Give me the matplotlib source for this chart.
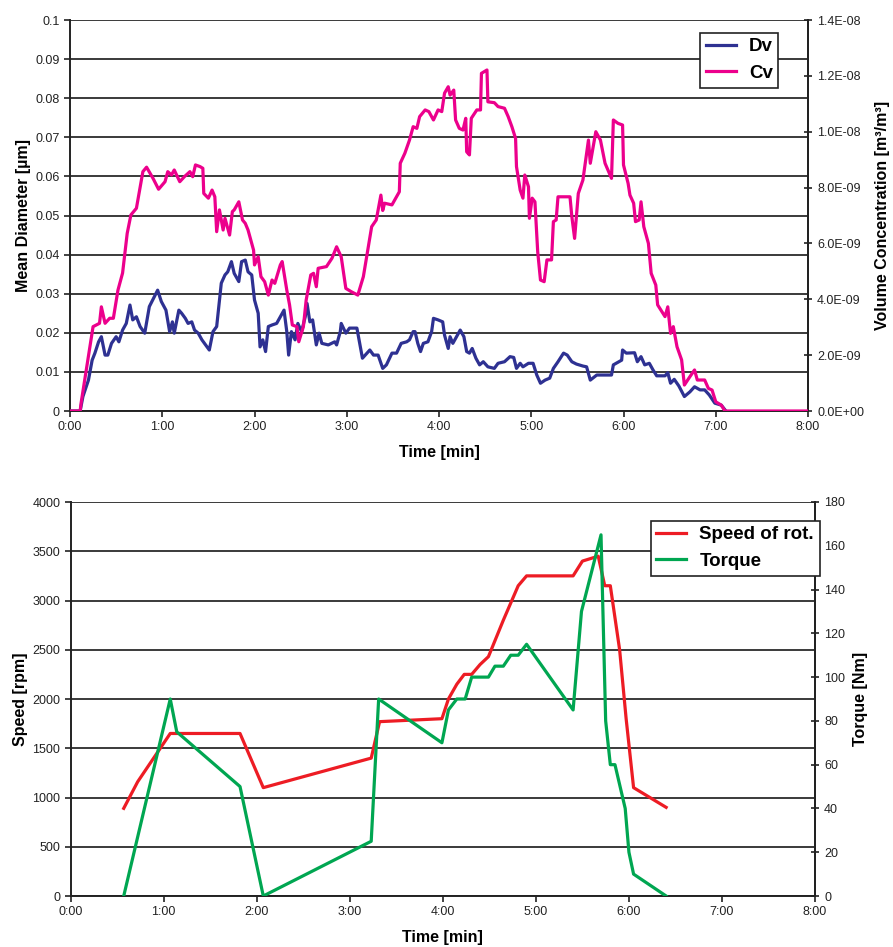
import matplotlib
matplotlib.use("Agg")
import matplotlib.pyplot as plt
from matplotlib.ticker import FuncFormatter, MultipleLocator
import numpy as np

plt.rcParams['font.family'] = ['Liberation Sans', 'DejaVu Sans']

# ---------------- data: top chart ----------------
# time in minutes
dv_time = [0.00, 0.11, 0.14, 0.20, 0.24, 0.27, 0.31, 0.34, 0.38, 0.41, 0.45, 0.50, 0.53, 0.57, 0.61,
           0.65, 0.68, 0.72, 0.76, 0.81, 0.86, 0.95, 0.99, 1.04, 1.08, 1.11, 1.13, 1.18, 1.21, 1.25,
           1.28, 1.32, 1.35, 1.39, 1.43, 1.47, 1.51, 1.55, 1.59, 1.64, 1.68, 1.71, 1.75, 1.78, 1.83,
           1.86, 1.90, 1.93, 1.97, 2.00, 2.04, 2.06, 2.09, 2.12, 2.15, 2.19, 2.24, 2.28, 2.32, 2.35,
           2.37, 2.40, 2.44, 2.47, 2.51, 2.55, 2.57, 2.60, 2.63, 2.67, 2.70, 2.73, 2.80, 2.87, 2.89,
           2.93, 2.94, 2.99, 3.03, 3.11, 3.17, 3.25, 3.29, 3.34, 3.39, 3.43, 3.49, 3.54, 3.59, 3.65,
           3.68, 3.72, 3.74, 3.77, 3.80, 3.83, 3.88, 3.92, 3.94, 3.99, 4.04, 4.06, 4.10, 4.12, 4.15,
           4.19, 4.23, 4.27, 4.30, 4.33, 4.36, 4.40, 4.44, 4.48, 4.53, 4.60, 4.64, 4.71, 4.77, 4.81,
           4.84, 4.88, 4.91, 4.97, 5.02, 5.06, 5.10, 5.15, 5.20, 5.24, 5.29, 5.35, 5.39, 5.44, 5.49,
           5.56, 5.60, 5.64, 5.71, 5.78, 5.87, 5.89, 5.95, 5.98, 5.99, 6.03, 6.12, 6.15, 6.19, 6.23,
           6.28, 6.32, 6.36, 6.45, 6.48, 6.51, 6.55, 6.60, 6.66, 6.72, 6.77, 6.83, 6.88, 6.93, 6.99,
           7.06, 7.10]
# mean diameter Dv [um]
dv_values = [0.0000, 0.0000, 0.0037, 0.0079, 0.0130, 0.0148, 0.0177, 0.0190, 0.0143, 0.0143, 0.0173, 0.0190, 0.0177, 0.0207, 0.0224,
             0.0271, 0.0233, 0.0241, 0.0216, 0.0199, 0.0267, 0.0309, 0.0280, 0.0258, 0.0203, 0.0228, 0.0199, 0.0258, 0.0250, 0.0237,
             0.0224, 0.0228, 0.0207, 0.0199, 0.0182, 0.0169, 0.0156, 0.0203, 0.0216, 0.0327, 0.0348, 0.0356, 0.0382, 0.0352, 0.0331,
             0.0382, 0.0386, 0.0356, 0.0348, 0.0284, 0.0250, 0.0164, 0.0182, 0.0152, 0.0216, 0.0220, 0.0224, 0.0241, 0.0258, 0.0203,
             0.0143, 0.0203, 0.0182, 0.0224, 0.0203, 0.0241, 0.0275, 0.0228, 0.0233, 0.0169, 0.0199, 0.0173, 0.0169, 0.0177, 0.0169,
             0.0203, 0.0224, 0.0199, 0.0212, 0.0212, 0.0135, 0.0156, 0.0143, 0.0143, 0.0109, 0.0118, 0.0148, 0.0148, 0.0173, 0.0177,
             0.0182, 0.0203, 0.0203, 0.0173, 0.0152, 0.0173, 0.0177, 0.0203, 0.0237, 0.0233, 0.0228, 0.0194, 0.0160, 0.0190, 0.0173,
             0.0190, 0.0207, 0.0190, 0.0152, 0.0148, 0.0160, 0.0135, 0.0118, 0.0126, 0.0113, 0.0109, 0.0122, 0.0126, 0.0139, 0.0137,
             0.0109, 0.0122, 0.0113, 0.0122, 0.0122, 0.0092, 0.0071, 0.0079, 0.0084, 0.0109, 0.0126, 0.0148, 0.0143, 0.0126, 0.0120,
             0.0115, 0.0113, 0.0079, 0.0092, 0.0092, 0.0092, 0.0118, 0.0126, 0.0130, 0.0156, 0.0148, 0.0149, 0.0126, 0.0139, 0.0118,
             0.0122, 0.0105, 0.0090, 0.0090, 0.0098, 0.0071, 0.0081, 0.0064, 0.0037, 0.0049, 0.0062, 0.0054, 0.0054, 0.0041, 0.0020,
             0.0015, 0.0003]

cv_time = [0.00, 0.11, 0.12, 0.25, 0.32, 0.34, 0.38, 0.43, 0.47, 0.52, 0.57, 0.62, 0.66, 0.72, 0.79,
           0.83, 0.90, 0.96, 1.03, 1.06, 1.10, 1.13, 1.19, 1.24, 1.30, 1.33, 1.36, 1.41, 1.44, 1.45,
           1.50, 1.54, 1.57, 1.59, 1.62, 1.66, 1.68, 1.73, 1.76, 1.78, 1.83, 1.87, 1.90, 1.93, 1.99,
           2.00, 2.04, 2.07, 2.11, 2.15, 2.19, 2.22, 2.28, 2.30, 2.35, 2.38, 2.41, 2.46, 2.48, 2.53,
           2.56, 2.61, 2.64, 2.67, 2.69, 2.78, 2.84, 2.89, 2.94, 2.99, 3.05, 3.12, 3.18, 3.27, 3.32,
           3.37, 3.39, 3.41, 3.49, 3.57, 3.58, 3.63, 3.68, 3.72, 3.76, 3.79, 3.85, 3.89, 3.94, 3.99,
           4.03, 4.06, 4.10, 4.12, 4.16, 4.18, 4.22, 4.26, 4.29, 4.30, 4.33, 4.35, 4.41, 4.45, 4.46,
           4.52, 4.53, 4.60, 4.64, 4.71, 4.75, 4.79, 4.83, 4.84, 4.88, 4.91, 4.93, 4.97, 4.98, 5.01,
           5.04, 5.07, 5.10, 5.14, 5.17, 5.22, 5.24, 5.27, 5.29, 5.42, 5.44, 5.47, 5.51, 5.56, 5.62,
           5.64, 5.70, 5.75, 5.80, 5.87, 5.89, 5.94, 5.99, 6.00, 6.05, 6.07, 6.11, 6.13, 6.17, 6.19,
           6.22, 6.27, 6.30, 6.35, 6.37, 6.45, 6.48, 6.51, 6.54, 6.58, 6.63, 6.66, 6.72, 6.77, 6.80,
           6.88, 6.92, 6.96, 7.00, 7.06, 7.10, 8.00]
# volume concentration Cv [1E-09 m3/m3]
cv_values_e9 = [0.00, 0.00, 0.28, 3.02, 3.14, 3.73, 3.14, 3.32, 3.32, 4.33, 4.94, 6.36, 7.02, 7.26, 8.57,
                8.73, 8.33, 7.94, 8.21, 8.57, 8.45, 8.63, 8.21, 8.39, 8.57, 8.39, 8.81, 8.75, 8.69, 7.79,
                7.62, 7.91, 7.67, 6.42, 7.20, 6.48, 6.90, 6.30, 7.14, 7.20, 7.49, 6.84, 6.72, 6.48, 5.76,
                5.23, 5.52, 4.81, 4.63, 4.15, 4.69, 4.57, 5.23, 5.35, 4.33, 3.80, 3.08, 3.02, 2.48, 3.02,
                3.97, 4.87, 4.93, 4.45, 5.11, 5.17, 5.47, 5.88, 5.52, 4.39, 4.27, 4.15, 4.81, 6.60, 6.84,
                7.73, 7.18, 7.44, 7.38, 7.85, 8.87, 9.23, 9.70, 10.18, 10.12, 10.54, 10.78, 10.72, 10.42, 10.78,
                10.72, 11.38, 11.61, 11.31, 11.49, 10.42, 10.12, 10.06, 10.48, 9.28, 9.17, 10.48, 10.78, 10.78, 12.09,
                12.21, 11.07, 11.04, 10.90, 10.84, 10.54, 10.18, 9.76, 8.75, 7.91, 7.62, 8.45, 8.03, 6.90, 7.62,
                7.49, 5.70, 4.69, 4.63, 5.41, 5.41, 6.78, 6.84, 7.67, 7.67, 6.96, 6.18, 7.79, 8.27, 9.70,
                8.87, 10.00, 9.70, 8.87, 8.33, 10.42, 10.30, 10.24, 8.81, 8.15, 7.73, 7.44, 6.78, 6.84, 7.49,
                6.60, 6.00, 4.93, 4.51, 3.80, 3.38, 3.73, 2.78, 3.02, 2.30, 1.83, 0.93, 1.23, 1.47, 1.11,
                1.11, 0.81, 0.75, 0.33, 0.21, 0.00, 0.00]
cv_values = [v * 1e-9 for v in cv_values_e9]

# ---------------- data: bottom chart ----------------
speed_time = [0.57, 0.72, 1.07, 1.82, 2.07, 3.23, 3.32, 3.99, 4.06, 4.15, 4.23, 4.31, 4.40, 4.49,
              4.65, 4.81, 4.90, 5.40, 5.50, 5.67, 5.74, 5.80, 5.90, 5.97, 6.05, 6.40]
speed_rpm = [890, 1160, 1650, 1650, 1100, 1400, 1770, 1800, 2000, 2150, 2250, 2250, 2350, 2430,
             2800, 3150, 3250, 3250, 3400, 3450, 3150, 3150, 2500, 1800, 1100, 900]

torque_time = [0.57, 1.07, 1.14, 1.82, 2.07, 3.23, 3.31, 3.99, 4.06, 4.15, 4.24, 4.31, 4.49, 4.56,
               4.65, 4.73, 4.81, 4.90, 5.40, 5.49, 5.70, 5.75, 5.80, 5.85, 5.96, 6.00, 6.05, 6.40]
torque_nm = [0, 90, 75, 50, 0, 25, 90, 70, 85, 90, 90, 100, 100, 105,
             105, 110, 110, 115, 85, 130, 165, 80, 60, 60, 40, 20, 10, 0]

x_ticks = [0, 1, 2, 3, 4, 5, 6, 7, 8]

# ---------------- styling ----------------
C_DV = '#2E3192'
C_CV = '#EC008C'
C_SPEED = '#ED1C24'
C_TORQUE = '#00A651'
GRID = '#2b2b2b'
LW = 2.3
TICK_FS = 9
LABEL_FS = 11.5
LEG_FS = 13.5

fig = plt.figure(figsize=(8.93, 9.47), dpi=100)

def time_fmt(v, pos):
    return f"{int(round(v))}:00"

def style_axes(ax, ax2):
    ax.set_xlim(0, 8)
    ax.set_xticks(x_ticks)
    ax.xaxis.set_major_formatter(FuncFormatter(time_fmt))
    ax.grid(axis='y', color=GRID, linewidth=1.3, zorder=0)
    ax.set_axisbelow(True)
    for sp in ('top',):
        ax.spines[sp].set_visible(False)
        ax2.spines[sp].set_visible(False)
    ax2.spines['left'].set_visible(False)
    ax2.spines['bottom'].set_visible(False)
    for a in (ax, ax2):
        for sp in ('left', 'right', 'bottom'):
            a.spines[sp].set_linewidth(1.4)
            a.spines[sp].set_color('#222222')
    ax.tick_params(axis='both', labelsize=TICK_FS, colors='#222222', length=4, width=1.2, direction='out')
    ax2.tick_params(axis='y', labelsize=TICK_FS, colors='#222222', length=6, width=1.2, direction='inout')

LEG_KW = dict(loc='upper left', borderaxespad=0, fancybox=False, edgecolor='#222222', framealpha=1,
              handlelength=1.6, handletextpad=0.7, borderpad=0.3, labelspacing=0.5,
              prop={'size': LEG_FS, 'weight': 'bold'})

# ---------- top chart ----------
ax1 = fig.add_axes([70 / 893, 1 - 411 / 947, 738 / 893, 391 / 947])
ax1b = ax1.twinx()
l_dv, = ax1.plot(dv_time, dv_values, color=C_DV, lw=LW, solid_joinstyle='round', label='Dv', zorder=3)
l_cv, = ax1b.plot(cv_time, cv_values, color=C_CV, lw=LW, solid_joinstyle='round', label='Cv', zorder=3)
ax1.set_ylim(0, 0.1)
ax1.yaxis.set_major_locator(MultipleLocator(0.01))
ax1.yaxis.set_major_formatter(FuncFormatter(lambda v, p: "0" if abs(v) < 1e-12 else f"{round(v, 2):g}"))
ax1b.set_ylim(0, 1.4e-8)
ax1b.yaxis.set_major_locator(MultipleLocator(2e-9))
ax1b.yaxis.set_major_formatter(FuncFormatter(lambda v, p: f"{v:.1E}"))
style_axes(ax1, ax1b)
ax1.set_xlabel('Time [min]', fontsize=LABEL_FS, fontweight='bold', labelpad=8)
ax1.set_ylabel('Mean Diameter [µm]', fontsize=LABEL_FS, fontweight='bold', labelpad=3)
ax1b.set_ylabel('Volume Concentration [m³/m³]', fontsize=LABEL_FS, fontweight='bold', rotation=90, labelpad=8)
leg1 = ax1b.legend(handles=[l_dv, l_cv], bbox_to_anchor=(0.8537, 0.9675), **LEG_KW)
leg1.get_frame().set_linewidth(1.2)

# ---------- bottom chart ----------
ax2 = fig.add_axes([70.7 / 893, 1 - 896 / 947, 744.3 / 893, 394 / 947])
ax2b = ax2.twinx()
l_sp, = ax2.plot(speed_time, speed_rpm, color=C_SPEED, lw=LW, solid_joinstyle='round', label='Speed of rot.', zorder=3)
l_tq, = ax2b.plot(torque_time, torque_nm, color=C_TORQUE, lw=LW, solid_joinstyle='round', label='Torque', zorder=3)
ax2.set_ylim(0, 4000)
ax2.yaxis.set_major_locator(MultipleLocator(500))
ax2b.set_ylim(0, 180)
ax2b.yaxis.set_major_locator(MultipleLocator(20))
style_axes(ax2, ax2b)
ax2.set_xlabel('Time [min]', fontsize=LABEL_FS, fontweight='bold', labelpad=8)
ax2.set_ylabel('Speed [rpm]', fontsize=LABEL_FS, fontweight='bold', labelpad=3)
ax2b.set_ylabel('Torque [Nm]', fontsize=LABEL_FS, fontweight='bold', rotation=90, labelpad=6)
leg2 = ax2b.legend(handles=[l_sp, l_tq], bbox_to_anchor=(0.7793, 0.9525), **LEG_KW)
leg2.get_frame().set_linewidth(1.2)

fig.savefig('out.png', dpi=100)
